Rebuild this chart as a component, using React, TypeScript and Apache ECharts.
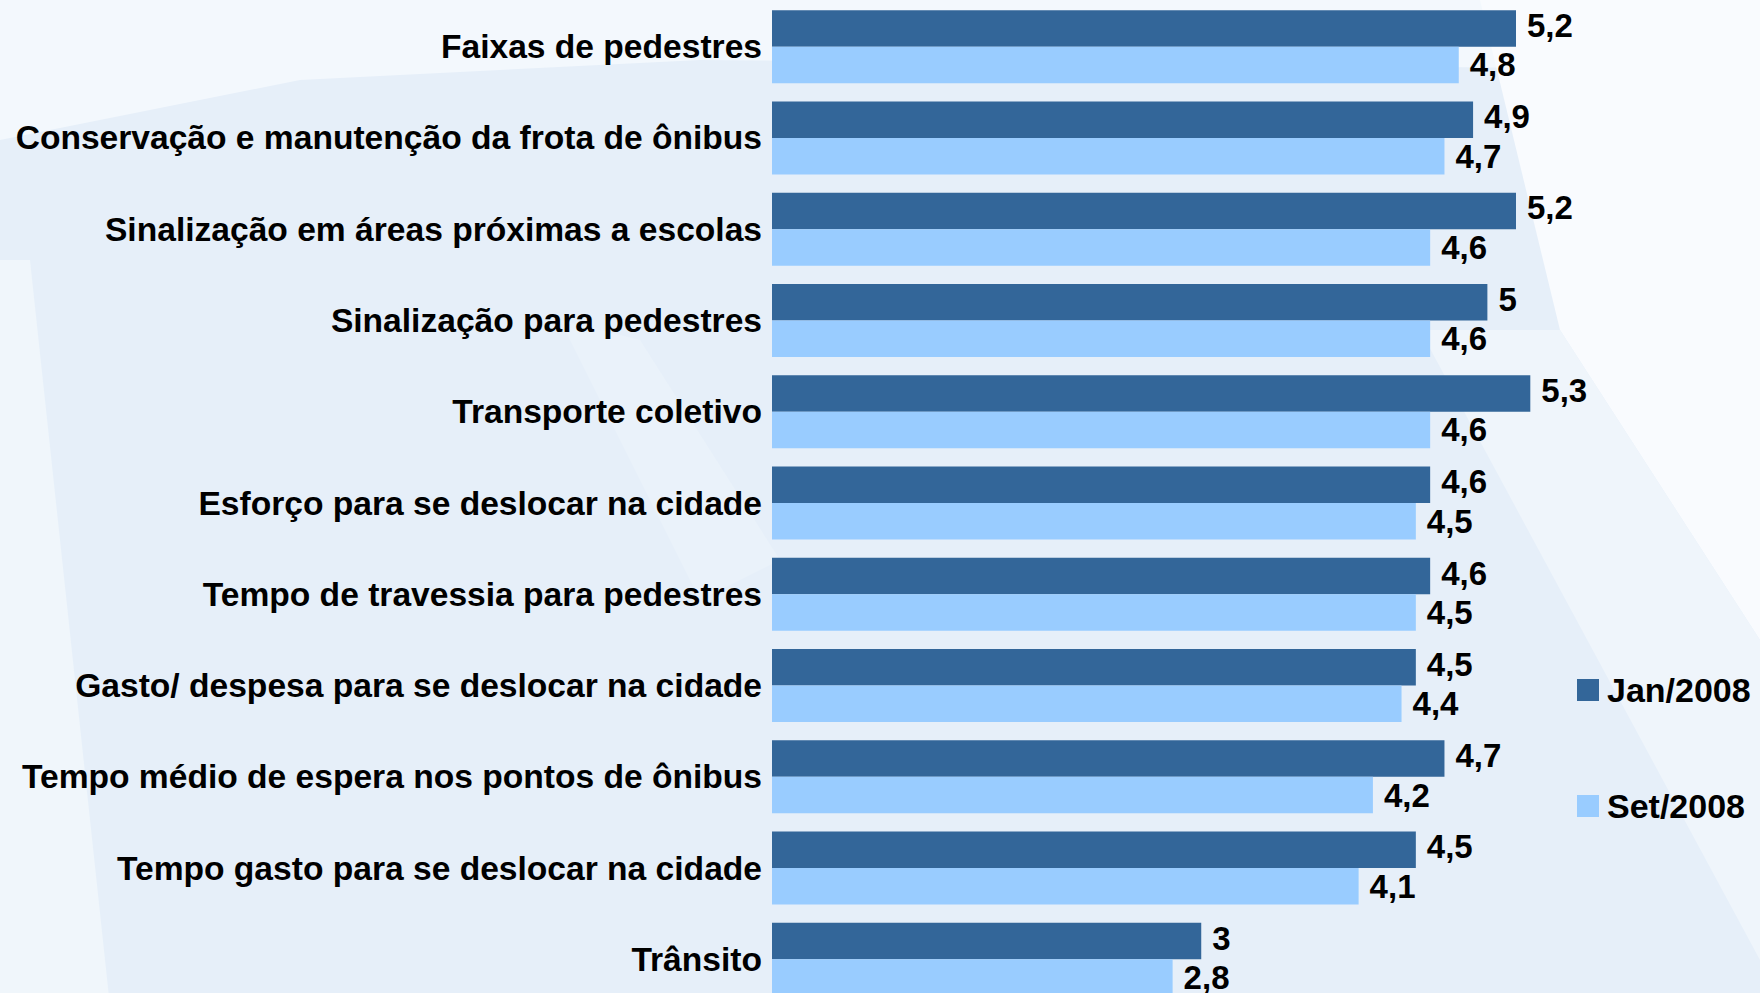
import React, { useEffect, useRef } from "react";
import * as echarts from "echarts";

const categories = [
  "Faixas de pedestres",
  "Conservação e manutenção da frota de ônibus",
  "Sinalização em áreas próximas a escolas",
  "Sinalização para pedestres",
  "Transporte coletivo",
  "Esforço para se deslocar na cidade",
  "Tempo de travessia para pedestres",
  "Gasto/ despesa para se deslocar na cidade",
  "Tempo médio de espera nos pontos de ônibus",
  "Tempo gasto para se deslocar na cidade",
  "Trânsito",
];
const jan2008 = [5.2, 4.9, 5.2, 5.0, 5.3, 4.6, 4.6, 4.5, 4.7, 4.5, 3.0];
const set2008 = [4.8, 4.7, 4.6, 4.6, 4.6, 4.5, 4.5, 4.4, 4.2, 4.1, 2.8];
const seriesNames = ["Jan/2008", "Set/2008"];

const FONT = "Liberation Sans";

export default function App() {
  const ref = useRef<HTMLDivElement>(null);
  useEffect(() => {
    document.body.style.margin = "0";
    document.body.style.overflow = "hidden";
    const chart = echarts.init(ref.current!, undefined, { renderer: "svg" });
    const fmt = (p: any) => String(p.value).replace(".", ",");
    const labelStyle = {
      show: true,
      position: "right" as const,
      distance: 11,
      fontFamily: FONT,
      fontWeight: "bold" as const,
      fontSize: 33,
      color: "#000",
      formatter: fmt,
    };
    const legendText = {
      fontFamily: FONT,
      fontWeight: "bold" as const,
      fontSize: 34,
      color: "#000",
      padding: [0, 0, 0, 3],
    };
    chart.setOption({
      animation: false,
      backgroundColor: "#e6eff9",
      graphic: [
        {
          type: "polygon",
          z: -10,
          silent: true,
          shape: { points: [[0, 0], [1760, 0], [1760, 70], [700, 60], [300, 80], [0, 140]] },
          style: { fill: "#f3f8fd" },
        },
        {
          type: "polygon",
          z: -10,
          silent: true,
          shape: { points: [[0, 260], [30, 260], [110, 1006], [0, 1006]] },
          style: { fill: "#f0f6fb" },
        },
        {
          type: "polygon",
          z: -10,
          silent: true,
          shape: { points: [[1480, 0], [1760, 0], [1760, 640], [1560, 330]] },
          style: { fill: "#f9fbfe" },
        },
        {
          type: "polygon",
          z: -10,
          silent: true,
          shape: { points: [[1420, 330], [1560, 330], [1760, 640], [1760, 960]] },
          style: { fill: "#eff5fb" },
        },
        {
          type: "polygon",
          z: -10,
          silent: true,
          shape: { points: [[560, 320], [640, 340], [780, 560], [700, 600]] },
          style: { fill: "#eaf2fa" },
        },
      ],
      legend: [
        {
          data: [seriesNames[0]],
          left: 1577,
          top: 673,
          orient: "vertical",
          padding: 0,
          itemWidth: 22,
          itemHeight: 22,
          icon: "rect",
          textStyle: legendText,
        },
        {
          data: [seriesNames[1]],
          left: 1577,
          top: 789,
          orient: "vertical",
          padding: 0,
          itemWidth: 22,
          itemHeight: 22,
          icon: "rect",
          textStyle: legendText,
        },
      ],
      grid: { left: 772, top: 1, width: 930, height: 1004, containLabel: false },
      xAxis: {
        type: "value",
        min: 0,
        max: 6.5,
        show: false,
        splitLine: { show: false },
      },
      yAxis: {
        type: "category",
        data: categories,
        inverse: true,
        axisLine: { show: false },
        axisTick: { show: false },
        axisLabel: {
          margin: 10,
          fontFamily: FONT,
          fontWeight: "bold",
          fontSize: 33.6,
          color: "#000",
          padding: [0, 0, 6, 0],
        },
      },
      series: [
        {
          name: seriesNames[0],
          type: "bar",
          data: jan2008,
          barGap: "0%",
          barCategoryGap: "20%",
          itemStyle: { color: "#336699" },
          label: { ...labelStyle, offset: [0, -3] },
        },
        {
          name: seriesNames[1],
          type: "bar",
          data: set2008,
          barGap: "0%",
          barCategoryGap: "20%",
          itemStyle: { color: "#99ccff" },
          label: labelStyle,
        },
      ],
    });
    return () => chart.dispose();
  }, []);
  return <div ref={ref} style={{ width: 1760, height: 1006 }} />;
}
